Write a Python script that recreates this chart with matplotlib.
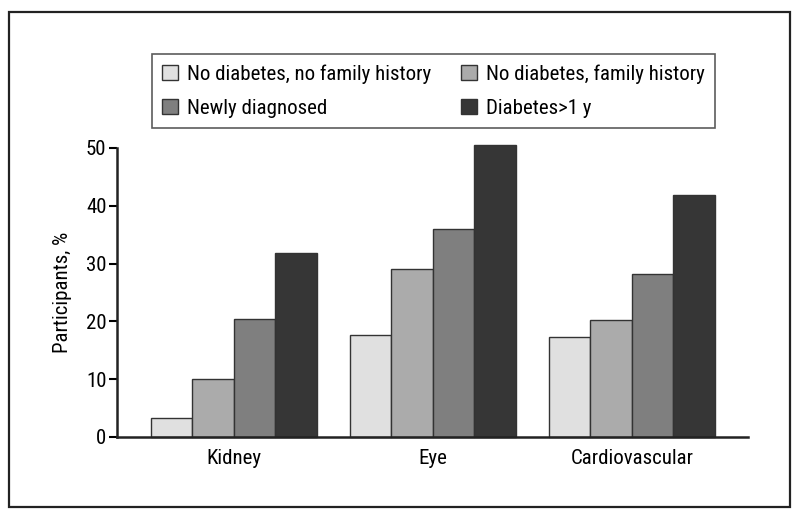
import numpy as np
import matplotlib
matplotlib.use('Agg')
import matplotlib.pyplot as plt
from matplotlib.patches import Rectangle

plt.rcParams['font.family'] = ['Roboto Condensed', 'DejaVu Sans']

categories = ['Kidney', 'Eye', 'Cardiovascular']
groups = ['No diabetes, no family history', 'No diabetes, family history',
          'Newly diagnosed', 'Diabetes>1 y']
no_diab_no_fh = [3.2, 17.6, 17.3]
no_diab_fh = [10.1, 29.1, 20.3]
newly_diag = [20.4, 36.0, 28.2]
diab_1y = [31.8, 50.5, 41.8]
colors = ['#e0e0e0', '#ababab', '#7f7f7f', '#363636']

series = [no_diab_no_fh, no_diab_fh, newly_diag, diab_1y]

fig = plt.figure(figsize=(8, 5.18), dpi=100)
ax = fig.add_axes([0.146, 0.1564, 0.789, 0.5579])

x = np.arange(len(categories))
w = 0.2085
bars = []
for i, vals in enumerate(series):
    b = ax.bar(x + (i - 1.5) * w, vals, width=w, color=colors[i],
               edgecolor='#333333', linewidth=1.0, label=groups[i], clip_on=False)
    bars.append(b)

ax.set_xlim(-0.588, 2.583)
ax.set_ylim(0, 50)
ax.set_yticks([0, 10, 20, 30, 40, 50])
ax.set_xticks(x)
ax.set_xticklabels(categories, fontsize=15)
ax.tick_params(axis='x', length=0, pad=9)
ax.tick_params(axis='y', labelsize=15, length=6, width=1.5, pad=1.5)
ax.set_ylabel('Participants, %', fontsize=15, labelpad=10)
for s in ['top', 'right']:
    ax.spines[s].set_visible(False)
for s in ['left', 'bottom']:
    ax.spines[s].set_linewidth(1.8)
    ax.spines[s].set_color('#222222')

# row-wise order in a 2-column legend
order = [0, 2, 1, 3]
leg = fig.legend([bars[k] for k in order], [groups[k] for k in order],
                 loc='upper left', bbox_to_anchor=(0.19, 0.753, 0.704, 0.143),
                 mode='expand', ncol=2, fontsize=15, frameon=True,
                 fancybox=False, edgecolor='#333333', handlelength=0.75,
                 handleheight=0.75, handletextpad=0.45, labelspacing=0.72,
                 borderpad=0.5, borderaxespad=0)
leg.get_frame().set_linewidth(1.2)

fig.patches.append(Rectangle((0.011, 0.021), 0.976, 0.956, transform=fig.transFigure,
                             fill=False, edgecolor='#222222', linewidth=1.6))

fig.savefig('out.png', dpi=100)
